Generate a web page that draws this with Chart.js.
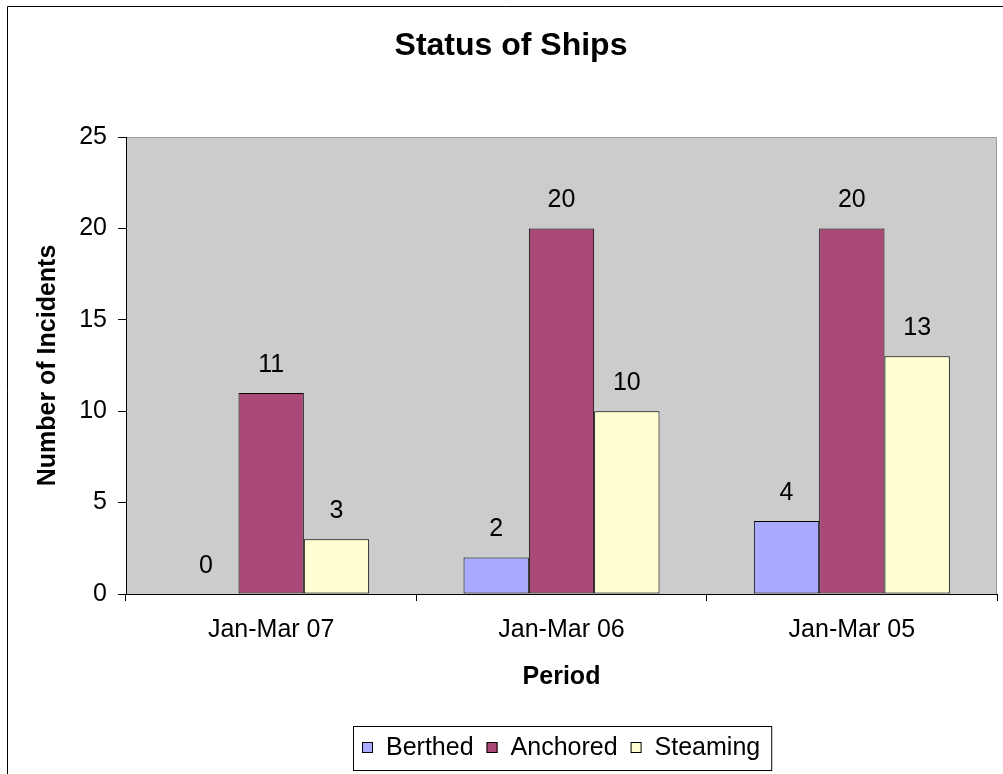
<!doctype html>
<html lang="en">
<head>
<meta charset="utf-8">
<title>Status of Ships</title>
<script src="https://cdn.jsdelivr.net/npm/chart.js@4/dist/chart.umd.min.js"></script>
<style>
  * { margin: 0; padding: 0; box-sizing: border-box; }
  html, body { background: #fff; }
  #canvas { display: block; }
</style>
</head>
<body>
<canvas id="canvas" width="1003" height="774"></canvas>
<script>
var periods = ["Jan-Mar 07", "Jan-Mar 06", "Jan-Mar 05"]
var berthed = [0, 2, 4]
var anchored = [11, 20, 20]
var steaming = [3, 10, 13]
var yTicks = [0, 5, 10, 15, 20, 25]

var FONT = "'Liberation Sans', Arial, sans-serif"
Chart.defaults.color = "#000"
Chart.defaults.font.family = FONT

// white page, frame lines, gray plot area
var backdrop = {
  id: "backdrop",
  beforeDraw: function(chart) {
    var ctx = chart.ctx, a = chart.chartArea
    ctx.save()
    ctx.fillStyle = "#fff"
    ctx.fillRect(0, 0, chart.width, chart.height)
    ctx.strokeStyle = "#000"
    ctx.lineWidth = 1
    ctx.beginPath()
    ctx.moveTo(7.5, chart.height)
    ctx.lineTo(7.5, 6.5)
    ctx.lineTo(chart.width, 6.5)
    ctx.stroke()
    ctx.fillStyle = "#cccccc"
    ctx.fillRect(a.left, a.top, a.right - a.left, a.bottom - a.top)
    ctx.strokeStyle = "#999"
    ctx.beginPath()
    ctx.moveTo(a.left, a.top + 0.5)
    ctx.lineTo(a.right - 0.5, a.top + 0.5)
    ctx.lineTo(a.right - 0.5, a.bottom)
    ctx.stroke()
    ctx.restore()
  }
}

// numbers over the bars + boxed legend under the chart
var labels = {
  id: "labels",
  afterDatasetsDraw: function(chart) {
    var ctx = chart.ctx
    ctx.save()
    ctx.font = "25px " + FONT
    ctx.fillStyle = "#000"
    ctx.textAlign = "center"
    ctx.textBaseline = "middle"
    chart.data.datasets.forEach(function(ds, i) {
      chart.getDatasetMeta(i).data.forEach(function(bar, j) {
        ctx.fillText(String(ds.data[j]), bar.x, bar.y - 28)
      })
    })
    ctx.restore()
  },
  afterDraw: function(chart) {
    var ctx = chart.ctx, a = chart.chartArea
    ctx.save()
    ctx.font = "25px " + FONT
    var box = 11, gap = 13, total = 0
    var widths = chart.data.datasets.map(function(ds) { return ctx.measureText(ds.label).width })
    widths.forEach(function(w, i) { total += box + gap + w + (i ? gap : 0) })
    var cx = (a.left + a.right) / 2
    var x = Math.round(cx - total / 2), cy = 748
    ctx.strokeStyle = "#000"
    ctx.lineWidth = 1
    ctx.strokeRect(x - 8.5, 726.5, total + 20, 44)
    ctx.textBaseline = "middle"
    chart.data.datasets.forEach(function(ds, i) {
      ctx.fillStyle = ds.backgroundColor
      ctx.fillRect(x, cy - 6, box, box)
      ctx.strokeStyle = "#000"
      ctx.strokeRect(x + 0.5, cy - 5.5, box - 1, box - 1)
      ctx.fillStyle = "#000"
      ctx.fillText(ds.label, x + box + gap, cy)
      x += box + gap + widths[i] + gap
    })
    ctx.restore()
  }
}

var ctx = document.getElementById("canvas").getContext("2d")
new Chart(ctx, {
  type: "bar",
  data: {
    labels: periods,
    datasets: [
      { label: "Berthed", data: berthed, backgroundColor: "#aaaaff" },
      { label: "Anchored", data: anchored, backgroundColor: "#aa4978" },
      { label: "Steaming", data: steaming, backgroundColor: "#ffffd2" }
    ]
  },
  options: {
    responsive: false,
    animation: false,
    layout: { padding: { left: 25, right: 6, top: 0, bottom: 70 } },
    datasets: {
      bar: {
        borderColor: "#000",
        borderWidth: 1,
        borderSkipped: false,
        categoryPercentage: 0.675,
        barPercentage: 1.0
      }
    },
    plugins: {
      legend: { display: false },
      tooltip: { enabled: false },
      title: {
        display: true,
        text: "Status of Ships",
        font: { size: 32, weight: "bold", family: FONT },
        padding: { top: 27, bottom: 71.6 }
      }
    },
    scales: {
      x: {
        grid: { drawOnChartArea: false, drawTicks: true, tickLength: 7, color: "#000", offset: true },
        border: { color: "#000", width: 1 },
        ticks: { font: { size: 25 }, padding: 14, maxRotation: 0 },
        title: { display: true, text: "Period", font: { size: 25, weight: "bold" }, padding: { top: 0, bottom: 12 } },
        afterFit: function(s) { s.height = 110 }
      },
      y: {
        min: 0,
        max: 25,
        afterBuildTicks: function(s) { s.ticks = yTicks.map(function(v) { return { value: v } }) },
        grid: { drawOnChartArea: false, drawTicks: true, tickLength: 8, color: "#000" },
        border: { color: "#000", width: 1 },
        ticks: { font: { size: 25 }, padding: 11 },
        title: { display: true, text: "Number of Incidents", font: { size: 25, weight: "bold" }, padding: { top: 8, bottom: 0 } },
        afterFit: function(s) { s.width = 101 }
      }
    }
  },
  plugins: [backdrop, labels]
})
</script>
</body>
</html>
